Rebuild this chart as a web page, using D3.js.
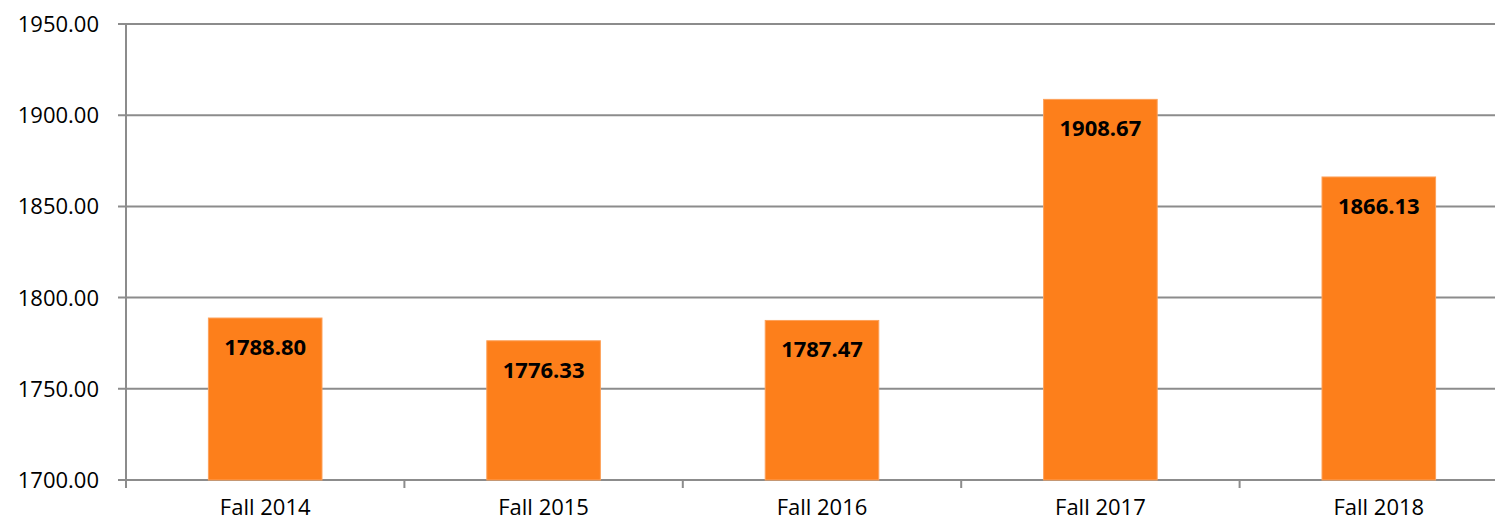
<!DOCTYPE html>
<html>
<head>
<meta charset="utf-8">
<script src="https://cdn.jsdelivr.net/npm/d3@7"></script>
<style>
  body { margin: 0; background: #fff; }
  svg { display: block; font-family: "Open Sans", sans-serif; }
</style>
</head>
<body>
<div id="chart"></div>
<script>
// chart data
const categories = ['Fall 2014', 'Fall 2015', 'Fall 2016', 'Fall 2017', 'Fall 2018'];
const values = [1788.80, 1776.33, 1787.47, 1908.67, 1866.13];
const yTicks = [1700, 1750, 1800, 1850, 1900, 1950];

const W = 1495, H = 524;
const margin = { top: 24, left: 126 };
const plotH = 456;
const bandW = 278.4;

const svg = d3.select('#chart')
  .append('svg')
  .attr('width', W)
  .attr('height', H);

const x = d3.scaleBand()
  .domain(categories)
  .range([margin.left, margin.left + bandW * categories.length])
  .padding(0);

const y = d3.scaleLinear()
  .domain([1700, 1950])
  .range([margin.top + plotH, margin.top]);

// gridlines + y tick marks
svg.append('g')
  .selectAll('line')
  .data(yTicks)
  .join('line')
  .attr('x1', margin.left - 8)
  .attr('x2', x.range()[1])
  .attr('y1', d => y(d))
  .attr('y2', d => y(d))
  .attr('stroke', '#8c8c8c')
  .attr('stroke-width', 2);

// y labels
svg.append('g')
  .selectAll('text')
  .data(yTicks)
  .join('text')
  .attr('x', 99)
  .attr('y', d => y(d))
  .attr('dy', '0.36em')
  .attr('text-anchor', 'end')
  .style('font-size', '22px')
  .attr('fill', '#000')
  .text(d => d3.format('.2f')(d));

// bars
const barW = bandW * 0.408;
svg.append('g')
  .selectAll('rect')
  .data(values)
  .join('rect')
  .attr('x', (d, i) => x(categories[i]) + (x.bandwidth() - barW) / 2)
  .attr('y', d => y(d))
  .attr('width', barW)
  .attr('height', d => y(1700) - y(d))
  .attr('fill', '#fd7f1b')
  .attr('stroke', '#fda15a')
  .attr('stroke-width', 1);

// value labels
svg.append('g')
  .selectAll('text')
  .data(values)
  .join('text')
  .attr('x', (d, i) => x(categories[i]) + x.bandwidth() / 2)
  .attr('y', d => y(d) + 37)
  .attr('text-anchor', 'middle')
  .style('font-size', '22px')
  .style('font-weight', 'bold')
  .attr('fill', '#000')
  .text(d => d3.format('.2f')(d));

// axes lines
svg.append('line')
  .attr('x1', margin.left).attr('x2', margin.left)
  .attr('y1', margin.top).attr('y2', y(1700) + 8)
  .attr('stroke', '#8c8c8c').attr('stroke-width', 2);

// category tick marks
svg.append('g')
  .selectAll('line')
  .data(categories.slice(1))
  .join('line')
  .attr('x1', d => x(d)).attr('x2', d => x(d))
  .attr('y1', y(1700)).attr('y2', y(1700) + 8)
  .attr('stroke', '#8c8c8c').attr('stroke-width', 2);

// x labels
svg.append('g')
  .selectAll('text')
  .data(categories)
  .join('text')
  .attr('x', d => x(d) + x.bandwidth() / 2)
  .attr('y', 515)
  .attr('text-anchor', 'middle')
  .style('font-size', '22px')
  .attr('fill', '#000')
  .text(d => d);
</script>
</body>
</html>
